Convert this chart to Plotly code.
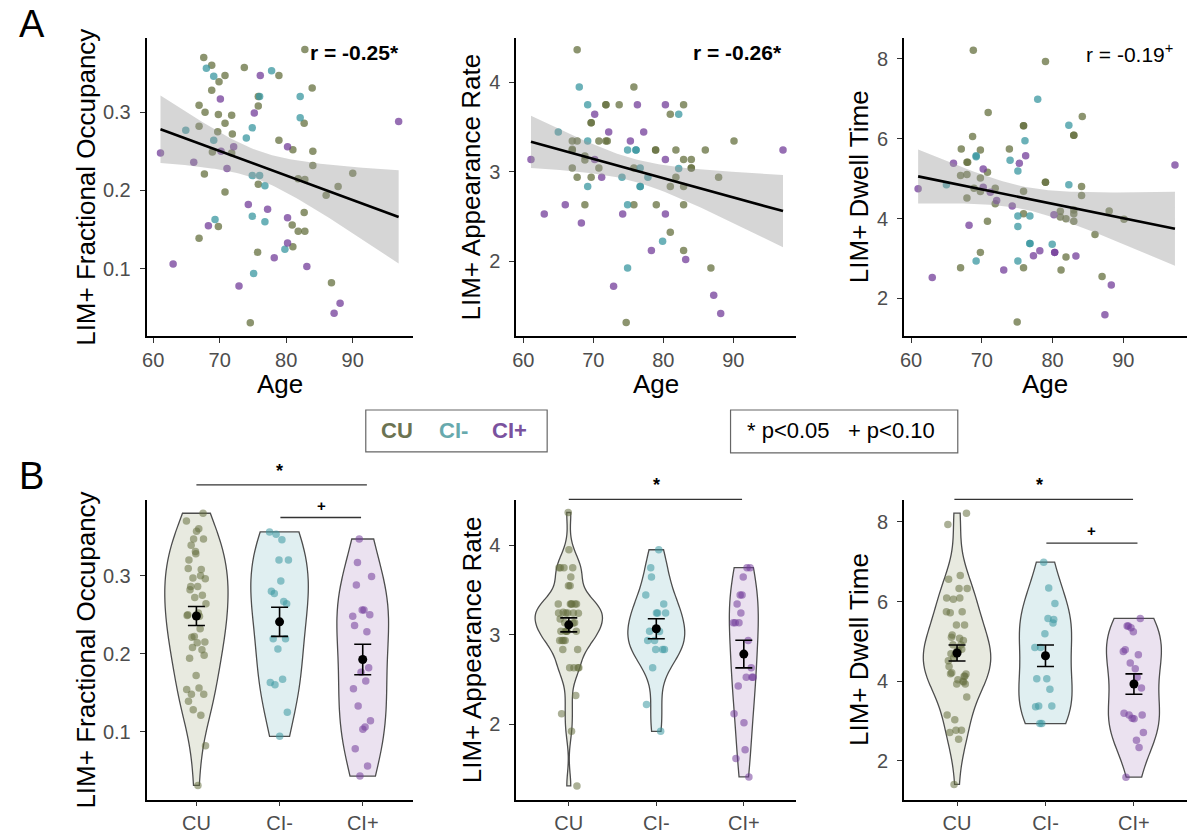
import numpy as np
import plotly.graph_objects as go

FONT = "Liberation Sans, Arial, sans-serif"
W, H = 1188, 834

groups = ["CU", "CI-", "CI+"]

# ---------------- LIM+ fractional occupancy vs age ----------------
fo_cu_age = [67.6, 68.8, 69.9, 70.8, 68.8, 66.9, 67.8, 69.8, 71.8, 70.8, 66.9, 69.7, 71.9, 68.9, 71.8,
             67.7, 70.8, 73.7, 75.8, 75.8, 78.9, 78.9, 81.0, 82.7, 82.8, 83.9, 84.0, 84.0, 75.8, 81.8,
             82.8, 86.0, 87.8, 90.0, 69.8, 80.9, 81.8, 82.8, 82.7, 66.9, 75.7, 81.0, 86.8, 74.6]
fo_cu_val = [0.370, 0.360, 0.339, 0.347, 0.328, 0.309, 0.300, 0.297, 0.296, 0.286, 0.282, 0.275, 0.272, 0.249, 0.248,
             0.221, 0.198, 0.357, 0.320, 0.308, 0.347, 0.264, 0.252, 0.286, 0.380, 0.331, 0.250, 0.232, 0.208, 0.215,
             0.214, 0.194, 0.205, 0.222, 0.154, 0.156, 0.148, 0.148, 0.172, 0.139, 0.121, 0.128, 0.082, 0.031]
fo_cim_age = [68.0, 69.1, 64.9, 69.1, 76.0, 74.9, 74.0, 77.8, 82.1, 82.1, 74.9, 76.0, 76.8, 69.3, 74.9, 76.8, 79.8, 75.1]
fo_cim_val = [0.356, 0.346, 0.277, 0.264, 0.320, 0.280, 0.267, 0.353, 0.320, 0.293, 0.219, 0.219, 0.206, 0.163, 0.167,
              0.160, 0.125, 0.094]
fo_cip_age = [61.1, 63.0, 70.1, 70.2, 72.1, 66.1, 71.1, 76.1, 75.2, 80.2, 96.9, 74.3, 77.2, 68.3, 80.2, 80.2, 78.2,
              83.1, 72.9, 88.1, 87.2]
fo_cip_val = [0.248, 0.106, 0.317, 0.250, 0.256, 0.236, 0.228, 0.347, 0.299, 0.256, 0.288, 0.182, 0.176, 0.155, 0.165,
              0.133, 0.114, 0.103, 0.078, 0.056, 0.043]

# ---------------- LIM+ appearance rate vs age ----------------
ar_cu_age = [67.0, 67.7, 67.0, 67.0, 67.7, 68.8, 68.8, 67.7, 68.8, 69.7, 69.7, 70.8, 70.8, 71.8, 71.8, 73.7, 74.7,
             75.8, 75.8, 75.8, 78.9, 79.0, 81.0, 81.0, 81.0, 81.8, 81.8, 82.9, 82.9, 82.9, 82.9, 82.9, 84.0, 84.0,
             86.0, 86.8, 87.9, 90.1, 69.7, 71.8, 78.9, 84.0, 67.0, 72.0]
ar_cu_val = [3.343, 3.343, 3.25, 3.04, 4.364, 3.176, 3.132, 2.937, 2.631, 3.547, 2.937, 3.343, 3.04, 3.748, 3.343,
             3.748, 1.313, 3.948, 3.04, 2.631, 3.243, 2.631, 3.644, 2.835, 2.323, 3.243, 2.937, 3.748, 3.135, 2.835,
             2.631, 2.119, 3.135, 3.04, 3.243, 1.922, 2.937, 3.343, 3.547, 3.748, 3.243, 3.04, 3.24, 3.343]
ar_cim_age = [65.0, 68.0, 69.2, 69.2, 69.2, 74.1, 74.9, 74.9, 74.9, 76.1, 76.7, 76.7, 77.8, 79.9, 82.2, 82.2, 76.7, 76.1]
ar_cim_val = [3.443, 3.948, 3.748, 3.343, 2.835, 2.937, 1.922, 2.631, 3.243, 3.243, 3.04, 2.835, 2.937, 2.222, 3.035,
              3.644, 2.835, 3.243]
ar_cip_age = [61.1, 63.0, 68.3, 66.0, 70.2, 70.2, 71.2, 72.2, 74.2, 72.9, 75.3, 76.3, 77.2, 78.3, 80.3, 80.3, 80.3,
              83.2, 87.2, 88.2, 97.1]
ar_cip_val = [3.135, 2.527, 2.427, 2.631, 3.644, 3.135, 2.937, 3.443, 2.527, 1.718, 3.343, 3.748, 3.443, 2.119, 3.748,
              3.135, 2.527, 2.018, 1.618, 1.414, 3.243]

# ---------------- LIM+ dwell time vs age ----------------
dt_cu_age = [67.1, 67.0, 67.9, 68.0, 67.9, 67.9, 67.0, 68.7, 68.8, 68.9, 69.8, 69.8, 69.8, 69.8, 70.9, 70.8, 70.8,
             71.9, 71.9, 73.9, 75.0, 75.9, 75.9, 75.9, 75.9, 75.9, 79.0, 79.0, 79.0, 81.1, 81.1, 81.2, 81.9, 81.9,
             83.0, 83.0, 83.0, 83.0, 83.0, 84.2, 84.1, 84.1, 86.0, 87.0, 88.0, 90.1]
dt_cu_val = [5.743, 5.079, 5.104, 5.411, 5.411, 4.515, 2.772, 6.058, 8.216, 4.763, 5.718, 5.021, 4.68, 3.154, 6.656,
             5.162, 3.934, 4.763, 4.373, 5.743, 1.411, 6.324, 6.324, 4.689, 4.124, 2.772, 7.934, 4.913, 4.913, 4.183,
             4.041, 2.714, 4.0, 3.037, 6.091, 6.091, 4.216, 4.124, 3.934, 6.556, 4.805, 4.581, 3.602, 2.548, 4.191,
             3.983]
dt_cim_age = [65.0, 69.2, 69.2, 74.0, 75.1, 75.1, 75.1, 75.1, 76.1, 76.8, 76.8, 76.8, 77.9, 79.95, 82.3, 82.3, 69.2]
dt_cim_val = [4.846, 5.577, 2.938, 5.46, 5.195, 4.066, 3.801, 2.938, 5.95, 4.066, 3.378, 3.378, 6.988, 3.361, 6.34,
              4.846, 5.55]
dt_cip_age = [61.0, 63.0, 66.0, 68.2, 70.2, 70.2, 71.2, 72.1, 73.1, 74.3, 75.3, 76.2, 77.3, 78.2, 80.2, 80.3, 80.3,
              83.3, 87.4, 88.3, 97.3]
dt_cip_val = [4.747, 2.523, 5.386, 3.834, 5.245, 4.788, 4.664, 4.456, 2.714, 4.315, 5.386, 5.577, 3.071, 3.195, 4.1,
              3.154, 3.154, 3.062, 1.593, 2.34, 5.344]

# group means and standard errors (CU, CI-, CI+)
fo_mean = [0.2483, 0.2408, 0.1925]
fo_se = [0.0122, 0.0187, 0.0195]
ar_mean = [3.11, 3.067, 2.784]
ar_se = [0.078, 0.111, 0.154]
dt_mean = [4.71, 4.64, 3.93]
dt_se = [0.20, 0.27, 0.255]

correlations = ["r = -0.25*", "r = -0.26*", "r = -0.19<sup>+</sup>"]
y_titles = ["LIM+ Fractional Occupancy", "LIM+ Appearance Rate", "LIM+ Dwell Time"]

panels = [
    dict(age=[fo_cu_age, fo_cim_age, fo_cip_age], val=[fo_cu_val, fo_cim_val, fo_cip_val],
         mean=fo_mean, se=fo_se, yticks=[0.1, 0.2, 0.3], tickfmt=".1f",
         rangeA=[0.0136, 0.395], rangeB=[0.0128, 0.3966]),
    dict(age=[ar_cu_age, ar_cim_age, ar_cip_age], val=[ar_cu_val, ar_cim_val, ar_cip_val],
         mean=ar_mean, se=ar_se, yticks=[2, 3, 4], tickfmt="d",
         rangeA=[1.157, 4.498], rangeB=[1.16, 4.5]),
    dict(age=[dt_cu_age, dt_cim_age, dt_cip_age], val=[dt_cu_val, dt_cim_val, dt_cip_val],
         mean=dt_mean, se=dt_se, yticks=[2, 4, 6, 8], tickfmt="d",
         rangeA=[1.05, 8.53], rangeB=[1.03, 8.54]),
]

# styling
point_color = {"CU": "#66703f", "CI-": "#3a97a0", "CI+": "#733d9a"}
label_color = {"CU": "#6b7352", "CI-": "#67a9ad", "CI+": "#7a529e"}
violin_fill = {"CU": "#e8eae0", "CI-": "#e0eff1", "CI+": "#ebe2f0"}
violin_width = [[0.76, 0.69, 0.62], [0.77, 0.65, 0.33], [0.76, 0.60, 0.62]]

# layout boxes in pixels (left, right) and (top, bottom)
col_x = [(143, 410), (514, 795), (903, 1187)]
row_a = (38, 338)
row_b = (502.7, 803.5)


def px(x):
    return x / W


def py(y):
    return 1 - y / H


def fit_band(x, y, t=1.99, n=80):
    x = np.asarray(x, float)
    y = np.asarray(y, float)
    b1, b0 = np.polyfit(x, y, 1)
    xs = np.linspace(x.min(), x.max(), n)
    yhat = b0 + b1 * xs
    resid = y - (b0 + b1 * x)
    s = np.sqrt(np.sum(resid ** 2) / (len(x) - 2))
    sxx = np.sum((x - x.mean()) ** 2)
    se = s * np.sqrt(1 / len(x) + (xs - x.mean()) ** 2 / sxx)
    return xs, yhat, yhat - t * se, yhat + t * se


fig = go.Figure()
axis_base = dict(showline=True, linecolor="black", linewidth=1.6, ticks="outside", ticklen=5,
                 tickwidth=1.3, tickcolor="#333", showgrid=False, zeroline=False,
                 tickfont=dict(family=FONT, size=20, color="#4d4d4d"))
layout_axes = {}
annotations = []
shapes = []

for k, p in enumerate(panels):
    # ---------- row A: scatter with linear fit ----------
    ia = k + 1
    xa = "x" if ia == 1 else f"x{ia}"
    ya = "y" if ia == 1 else f"y{ia}"
    for g, ages, vals in zip(groups, p["age"], p["val"]):
        fig.add_trace(go.Scatter(x=ages, y=vals, mode="markers", xaxis=xa, yaxis=ya, showlegend=False,
                                 marker=dict(size=7.5, color=point_color[g], opacity=0.75, line=dict(width=0))))
    all_age = sum(p["age"], [])
    all_val = sum(p["val"], [])
    xs, yh, lo, hi = fit_band(all_age, all_val)
    fig.add_trace(go.Scatter(x=np.concatenate([xs, xs[::-1]]), y=np.concatenate([hi, lo[::-1]]),
                             fill="toself", fillcolor="rgba(153,153,153,0.4)", line=dict(width=0),
                             mode="lines", xaxis=xa, yaxis=ya, showlegend=False, hoverinfo="skip"))
    fig.add_trace(go.Scatter(x=xs, y=yh, mode="lines", line=dict(color="black", width=2.6),
                             xaxis=xa, yaxis=ya, showlegend=False))
    x0, x1 = col_x[k]
    layout_axes["xaxis" if ia == 1 else f"xaxis{ia}"] = dict(
        axis_base, domain=[px(x0), px(x1)], anchor=ya, range=[59.0, 99.0], tickvals=[60, 70, 80, 90])
    layout_axes["yaxis" if ia == 1 else f"yaxis{ia}"] = dict(
        axis_base, domain=[py(row_a[1]), py(row_a[0])], anchor=xa, range=p["rangeA"],
        tickvals=p["yticks"], tickformat=p["tickfmt"], ticklabelstandoff=5)
    annotations.append(dict(x=px(x1 - 12), y=py(53), xref="paper", yref="paper", xanchor="right",
                            yanchor="middle", showarrow=False,
                            text=correlations[k] if k == 2 else f"<b>{correlations[k]}</b>",
                            font=dict(family=FONT, size=21, color="black")))
    annotations.append(dict(x=px((x0 + x1) / 2), y=py(386), xref="paper", yref="paper", xanchor="center",
                            yanchor="middle", showarrow=False, text="Age",
                            font=dict(family=FONT, size=26, color="black")))
    ytitle_x = [82, 469, 858][k]
    annotations.append(dict(x=px(ytitle_x), y=py(188), xref="paper", yref="paper", xanchor="center",
                            yanchor="middle", showarrow=False, text=y_titles[k], textangle=-90,
                            font=dict(family=FONT, size=26, color="black")))

    # ---------- row B: violins by group ----------
    ib = k + 4
    xb, yb = f"x{ib}", f"y{ib}"
    for gi, (g, vals) in enumerate(zip(groups, p["val"])):
        fig.add_trace(go.Violin(y=vals, x0=gi + 1, xaxis=xb, yaxis=yb, showlegend=False,
                                spanmode="hard", width=violin_width[k][gi],
                                scalemode="width", points=False, fillcolor=violin_fill[g],
                                line=dict(color="#4d4d4d", width=1.3), opacity=1,
                                box=dict(visible=False), meanline=dict(visible=False), hoverinfo="skip"))
    for gi, (g, vals) in enumerate(zip(groups, p["val"])):
        jit = [((i * 0.6180339887) % 1 - 0.5) * 0.24 for i in range(len(vals))]
        fig.add_trace(go.Scatter(x=[gi + 1 + j for j in jit], y=vals, mode="markers", xaxis=xb, yaxis=yb,
                                 showlegend=False,
                                 marker=dict(size=7.5, color=point_color[g], opacity=0.55, line=dict(width=0))))
    fig.add_trace(go.Scatter(x=[1, 2, 3], y=p["mean"], mode="markers", xaxis=xb, yaxis=yb, showlegend=False,
                             marker=dict(size=9, color="black"),
                             error_y=dict(type="data", array=p["se"], visible=True, color="black",
                                          thickness=1.6, width=8.5)))
    layout_axes[f"xaxis{ib}"] = dict(axis_base, domain=[px(x0), px(x1)], anchor=yb, range=[0.4, 3.6],
                                     tickvals=[1, 2, 3], ticktext=groups)
    layout_axes[f"yaxis{ib}"] = dict(axis_base, domain=[py(row_b[1]), py(row_b[0])], anchor=xb,
                                     range=p["rangeB"], tickvals=p["yticks"], tickformat=p["tickfmt"],
                                     ticklabelstandoff=5)
    annotations.append(dict(x=px(ytitle_x), y=py(653), xref="paper", yref="paper", xanchor="center",
                            yanchor="middle", showarrow=False, text=y_titles[k], textangle=-90,
                            font=dict(family=FONT, size=26, color="black")))

# significance brackets: (panel axis, x start, x end, y pixel, symbol, symbol x)
brackets = [
    ("x4", 1.0, 3.05, 487.3, "*", 2.0),
    ("x4", 2.01, 2.98, 520.0, "+", 2.5),
    ("x5", 1.0, 2.98, 501.7, "*", 2.0),
    ("x6", 0.97, 2.99, 501.7, "*", 1.93),
    ("x6", 2.01, 3.04, 545.7, "+", 2.52),
]
for ax, a, b, ypix, sym, sx in brackets:
    shapes.append(dict(type="line", xref=ax, yref="paper", x0=a, x1=b, y0=py(ypix), y1=py(ypix),
                       line=dict(color="#333", width=1.3)))
    annotations.append(dict(x=sx, y=py(ypix - 2), xref=ax, yref="paper", xanchor="center", yanchor="bottom",
                            showarrow=False, text=f"<b>{sym}</b>",
                            font=dict(family=FONT, size=18 if sym == "*" else 15, color="black")))

# group key and significance key
shapes.append(dict(type="rect", xref="paper", yref="paper", x0=px(363), x1=px(545), y0=py(454), y1=py(412),
                   line=dict(color="#666", width=1.2), fillcolor="white"))
for g, cx in zip(groups, [394, 451, 507.5]):
    annotations.append(dict(x=px(cx), y=py(433), xref="paper", yref="paper", xanchor="center", yanchor="middle",
                            showarrow=False, text=f"<b>{g}</b>",
                            font=dict(family=FONT, size=22, color=label_color[g])))
shapes.append(dict(type="rect", xref="paper", yref="paper", x0=px(729), x1=px(957), y0=py(455), y1=py(412),
                   line=dict(color="#666", width=1.2), fillcolor="white"))
annotations.append(dict(x=px(840), y=py(433), xref="paper", yref="paper", xanchor="center", yanchor="middle",
                        showarrow=False, text="* p&lt;0.05   + p&lt;0.10",
                        font=dict(family=FONT, size=22, color="black")))

# panel letters
for letter, ly in [("A", 24), ("B", 478)]:
    annotations.append(dict(x=px(28), y=py(ly), xref="paper", yref="paper", xanchor="center", yanchor="middle",
                            showarrow=False, text=letter, font=dict(family=FONT, size=38, color="black")))

fig.update_layout(width=W, height=H, margin=dict(l=0, r=0, t=0, b=0), plot_bgcolor="white",
                  paper_bgcolor="white", violinmode="overlay", showlegend=False,
                  annotations=annotations, shapes=shapes, font=dict(family=FONT), **layout_axes)
fig.write_html("out.html")
